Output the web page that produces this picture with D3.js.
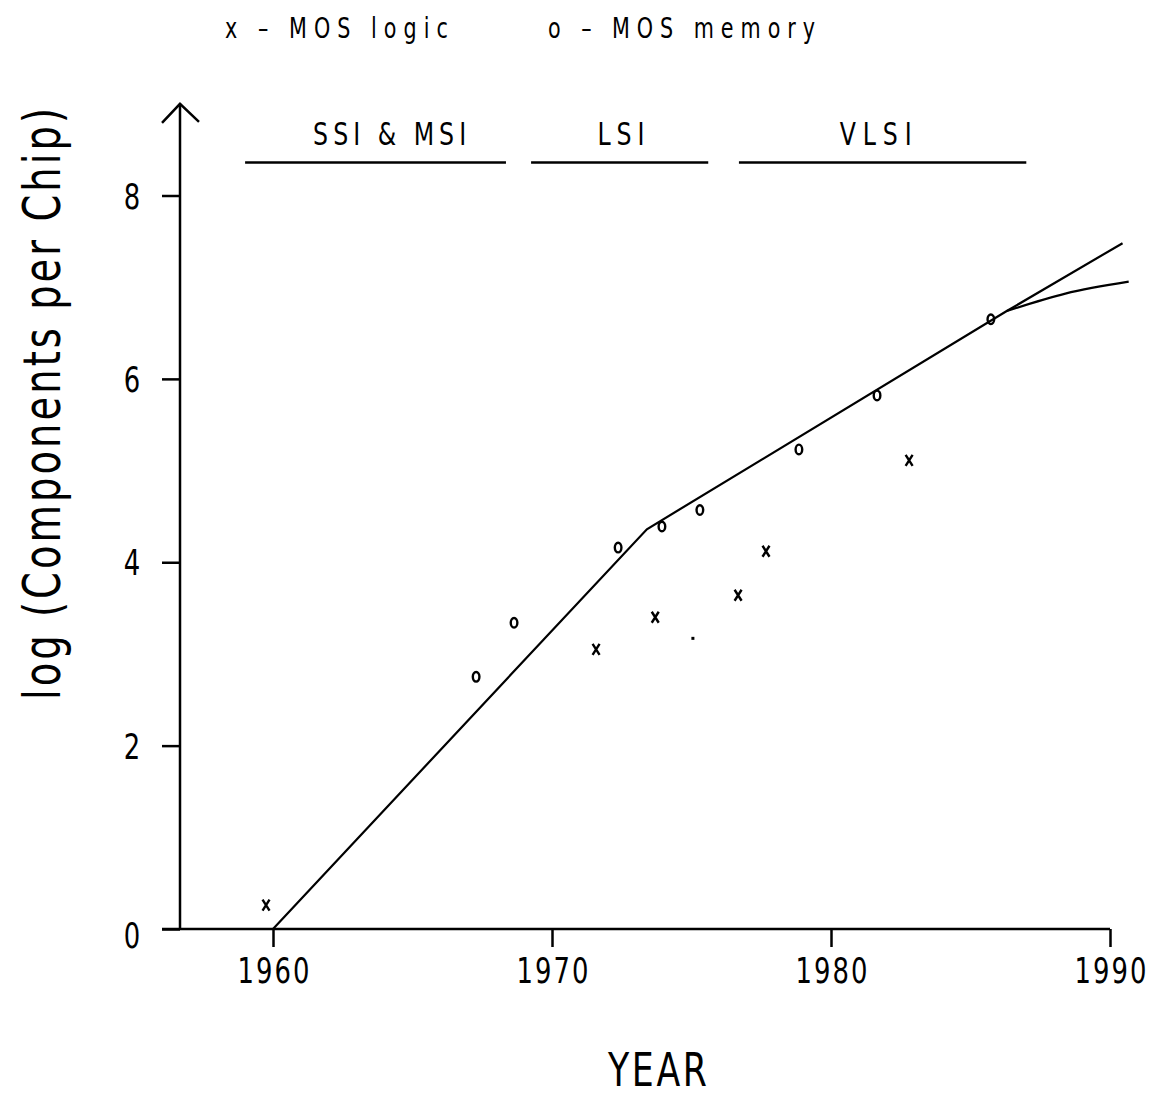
<!DOCTYPE html>
<html>
<head>
<meta charset="utf-8">
<script src="https://cdn.jsdelivr.net/npm/d3@7"></script>
<style>
  body { margin: 0; background: #fff; }
  svg text { font-family: "DejaVu Sans", sans-serif; fill: #000; }
</style>
</head>
<body>
<div id="chart"></div>
<script>
// values (year, log components per chip)
const xTicks = [1960, 1970, 1980, 1990];
const yTicks = [0, 2, 4, 6, 8];

const logicPts = [
  [1959.75, 0.26],
  [1971.58, 3.05],
  [1973.7, 3.4],
  [1976.67, 3.64],
  [1977.67, 4.12],
  [1982.8, 5.11],
];
const faintPts = [[1975.05, 3.17]];

const memoryPts = [
  [1967.28, 2.75],
  [1968.64, 3.34],
  [1972.37, 4.16],
  [1973.94, 4.39],
  [1975.3, 4.57],
  [1978.85, 5.23],
  [1981.65, 5.82],
  [1985.73, 6.65],
];

const trendMain = [[1960, 0], [1973.4, 4.36], [1986.3, 6.74], [1990.45, 7.48]];
const trendLow = [[1986.3, 6.74], [1988.4, 6.93], [1990.67, 7.06]];

const eraLevel = 8.36;
const eras = [
  { name: "SSI & MSI", from: 1959.0, to: 1968.35, at: 1964.18, len: 153 },
  { name: "LSI", from: 1969.25, to: 1975.6, at: 1972.47, len: 47 },
  { name: "VLSI", from: 1976.7, to: 1987.0, at: 1981.6, len: 72 },
];

const size = { width: 1153, height: 1098 };
const axisX = 180; // where the vertical axis sits
const squeeze = 0.74; // plotter lettering is narrow

const x = d3.scaleLinear().domain([1960, 1990]).range([273, 1110]);
const y = d3.scaleLinear().domain([0, 8]).range([929, 195.5]);

const svg = d3
  .select("#chart")
  .append("svg")
  .attr("width", size.width)
  .attr("height", size.height);

// narrow glyphs spread out to the width measured on the original
const narrow = (sel, px, py, len, rot = 0) => {
  sel
    .attr("x", 0)
    .attr("y", 0)
    .attr("dy", null)
    .attr("transform", `translate(${px},${py}) rotate(${rot}) scale(${squeeze},1)`);
  if (len) sel.attr("textLength", len / squeeze).attr("lengthAdjust", "spacing");
  return sel;
};

// legend
svg.append("text")
  .attr("font-size", 28)
  .call(narrow, 225, 38, 223)
  .text("x \u2013 MOS logic");
svg.append("text")
  .attr("font-size", 28)
  .call(narrow, 548, 38, 267)
  .text("o \u2013 MOS memory");

// x axis
const xAxis = svg.append("g")
  .attr("transform", `translate(0,${y(0)})`)
  .call(d3.axisBottom(x).tickValues(xTicks).tickSize(18).tickFormat(d3.format("d")));
xAxis.select(".domain").remove();
xAxis.selectAll(".tick line").attr("stroke", "#000").attr("stroke-width", 2.5);
xAxis.selectAll(".tick text")
  .attr("font-size", 35)
  .attr("font-family", null)
  .call(narrow, 0, 54, 72);

svg.append("line")
  .attr("x1", 162).attr("x2", x(1990))
  .attr("y1", y(0)).attr("y2", y(0))
  .attr("stroke", "#000").attr("stroke-width", 2.5);

// y axis with arrow on top
const yAxis = svg.append("g")
  .attr("transform", `translate(${axisX},0)`)
  .call(d3.axisLeft(y).tickValues(yTicks).tickSize(18).tickFormat(d3.format("d")));
yAxis.select(".domain").remove();
yAxis.selectAll(".tick line").attr("stroke", "#000").attr("stroke-width", 2.5);
yAxis.selectAll(".tick text")
  .attr("text-anchor", "middle")
  .attr("font-size", 35)
  .attr("font-family", null)
  .each(function (d) {
    d3.select(this).call(narrow, -48, d === 0 ? 18 : 12.5);
  });

svg.append("line")
  .attr("x1", axisX).attr("x2", axisX)
  .attr("y1", y(0)).attr("y2", y(9))
  .attr("stroke", "#000").attr("stroke-width", 2.5);
svg.append("path")
  .attr("d", d3.line()([[axisX - 18, y(9) + 19], [axisX, y(9)], [axisX + 19, y(9) + 18]]))
  .attr("fill", "none").attr("stroke", "#000").attr("stroke-width", 2.5);

// axis titles
svg.append("text")
  .attr("text-anchor", "middle")
  .attr("font-size", 47)
  .call(narrow, 657.5, 1086, 99)
  .text("YEAR");

svg.append("text")
  .attr("text-anchor", "middle")
  .attr("font-size", 52)
  .call(narrow, 60, 404, 592, -90)
  .text("log (Components per Chip)");

// era bars
const eraG = svg.append("g");
eraG.selectAll("line")
  .data(eras)
  .join("line")
  .attr("x1", (d) => x(d.from)).attr("x2", (d) => x(d.to))
  .attr("y1", y(eraLevel)).attr("y2", y(eraLevel))
  .attr("stroke", "#000").attr("stroke-width", 2.5);
eraG.selectAll("text")
  .data(eras)
  .join("text")
  .attr("text-anchor", "middle")
  .attr("font-size", 32)
  .each(function (d) {
    d3.select(this).call(narrow, x(d.at), y(eraLevel) - 17, d.len);
  })
  .text((d) => d.name);

// trend lines
const line = d3.line().x((d) => x(d[0])).y((d) => y(d[1]));
svg.append("path")
  .attr("d", line(trendMain))
  .attr("fill", "none").attr("stroke", "#000").attr("stroke-width", 2.2);
svg.append("path")
  .attr("d", line.curve(d3.curveMonotoneX)(trendLow))
  .attr("fill", "none").attr("stroke", "#000").attr("stroke-width", 2.2);

// markers
svg.selectAll(".logic")
  .data(logicPts)
  .join("path")
  .attr("class", "logic")
  .attr("transform", (d) => `translate(${x(d[0])},${y(d[1])})`)
  .attr("d", "M-3.5,-5.5L3.5,5.5M3.5,-5.5L-3.5,5.5")
  .attr("stroke", "#000").attr("stroke-width", 2.4).attr("fill", "none");

svg.selectAll(".faint")
  .data(faintPts)
  .join("rect")
  .attr("class", "faint")
  .attr("x", (d) => x(d[0]) - 1.5).attr("y", (d) => y(d[1]) - 1.5)
  .attr("width", 3).attr("height", 3)
  .attr("fill", "#000");

svg.selectAll(".memory")
  .data(memoryPts)
  .join("ellipse")
  .attr("class", "memory")
  .attr("cx", (d) => x(d[0])).attr("cy", (d) => y(d[1]))
  .attr("rx", 3.3).attr("ry", 4.8)
  .attr("stroke", "#000").attr("stroke-width", 2.4).attr("fill", "none");
</script>
</body>
</html>
